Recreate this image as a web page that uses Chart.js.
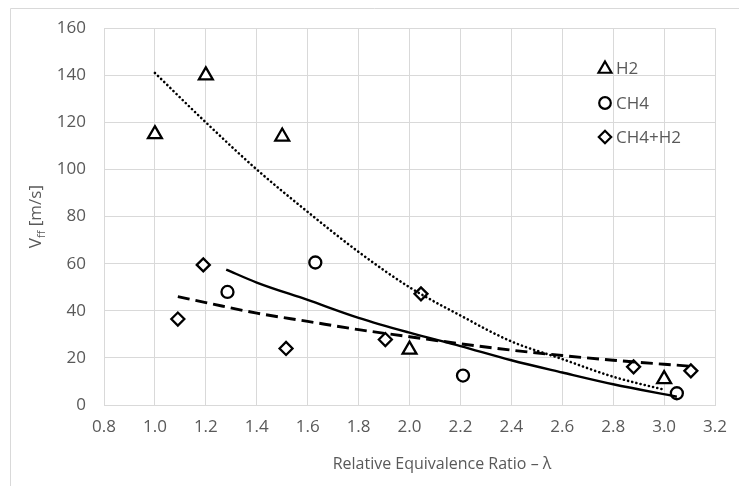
<!DOCTYPE html>
<html>
<head>
<meta charset="utf-8">
<script src="https://cdn.jsdelivr.net/npm/chart.js@4/dist/chart.umd.min.js"></script>
<style>
  html, body { margin: 0; padding: 0; background: #fff; }
  #wrap { width: 739px; height: 486px; }
</style>
</head>
<body>
<div id="wrap"><canvas id="chartVff"></canvas></div>
<script>
// measured points
var h2X = [1.0, 1.2, 1.5, 2.0, 3.0];
var h2Y = [115, 140, 114, 23.5, 11];
var ch4X = [1.285, 1.63, 2.21, 3.05];
var ch4Y = [48, 60.5, 12.5, 5];
var mixX = [1.09, 1.19, 1.515, 1.905, 2.045, 2.88, 3.105];
var mixY = [36.5, 59.5, 24, 27.8, 47.2, 16.2, 14.5];

// trend lines
var h2TrendX = [1.0, 1.2, 1.4, 1.6, 1.8, 2.0, 2.2, 2.4, 2.6, 2.8, 3.0];
var h2TrendY = [141, 120, 100, 82, 65, 50, 38, 27, 19.5, 12, 6.5];
var ch4TrendX = [1.28, 1.4, 1.6, 1.8, 2.0, 2.2, 2.4, 2.6, 2.8, 3.05];
var ch4TrendY = [57.5, 52, 44.6, 37, 30.7, 25, 19, 13.8, 8.8, 3.5];
var mixTrendX = [1.09, 1.2, 1.4, 1.6, 1.8, 2.0, 2.2, 2.4, 2.6, 2.8, 3.1];
var mixTrendY = [46, 43.5, 39, 35.5, 32, 29, 26, 23.3, 21, 19, 16.5];

var legendNames = ['H2', 'CH4', 'CH4+H2'];
var legendStyles = ['triangle', 'circle', 'rectRot'];

function pts(xs, ys) {
    return xs.map(function(x, i) { return { x: x, y: ys[i] }; });
}

var gray = '#595959';
var fontName = "'Open Sans', sans-serif";

// frame, axis titles and legend
var extras = {
    id: 'extras',
    beforeDraw: function(chart) {
        var ctx = chart.ctx;
        ctx.save();
        ctx.strokeStyle = '#d9d9d9';
        ctx.lineWidth = 1;
        ctx.beginPath();
        ctx.moveTo(10.5, 486);
        ctx.lineTo(10.5, 8.5);
        ctx.lineTo(739, 8.5);
        ctx.stroke();
        ctx.restore();
    },
    afterDraw: function(chart) {
        var ctx = chart.ctx;
        var area = chart.chartArea;
        ctx.save();
        ctx.fillStyle = gray;

        // x title
        ctx.font = '16px ' + fontName;
        ctx.textAlign = 'center';
        ctx.textBaseline = 'middle';
        ctx.fillText('Relative Equivalence Ratio \u2013 \u03bb', 442, 464);

        // y title with subscript
        ctx.translate(35, (area.top + area.bottom) / 2);
        ctx.rotate(-Math.PI / 2);
        ctx.textAlign = 'left';
        ctx.textBaseline = 'alphabetic';
        var big = '17px ' + fontName, small = '11px ' + fontName;
        ctx.font = big;
        var wV = ctx.measureText('V').width;
        var wU = ctx.measureText(' [m/s]').width;
        ctx.font = small;
        var wS = ctx.measureText('ff').width;
        var x0 = -(wV + wS + wU) / 2;
        ctx.font = big;
        ctx.fillText('V', x0, 6);
        ctx.font = small;
        ctx.fillText('ff', x0 + wV, 10);
        ctx.font = big;
        ctx.fillText(' [m/s]', x0 + wV + wS, 6);
        ctx.restore();

        // legend
        ctx.save();
        var rows = [68, 103, 137];
        var sizes = [7.5, 5.8, 6.2];
        for (var i = 0; i < legendNames.length; i++) {
            ctx.strokeStyle = '#000';
            ctx.fillStyle = '#fff';
            ctx.lineWidth = 2.2;
            Chart.helpers.drawPoint(ctx, { pointStyle: legendStyles[i], radius: sizes[i], rotation: 0, borderWidth: 2.2 }, 605, rows[i] + (i === 0 ? 1 : 0));
            ctx.fillStyle = gray;
            ctx.font = '17px ' + fontName;
            ctx.textAlign = 'left';
            ctx.textBaseline = 'middle';
            ctx.fillText(legendNames[i], 616, rows[i] + 1);
        }
        ctx.restore();
    }
};

function markerSet(data, style, r) {
    return {
        type: 'scatter',
        data: data,
        pointStyle: style,
        pointRadius: r,
        pointHoverRadius: r,
        pointBorderWidth: 2.3,
        pointBorderColor: '#000',
        pointBackgroundColor: '#fff',
        showLine: false
    };
}

function trendSet(data, width, dash, cap) {
    return {
        type: 'line',
        data: data,
        borderColor: '#000',
        borderWidth: width,
        borderDash: dash,
        borderCapStyle: cap,
        pointRadius: 0,
        fill: false,
        cubicInterpolationMode: 'monotone'
    };
}

new Chart(document.getElementById('chartVff').getContext('2d'), {
    data: {
        datasets: [
            trendSet(pts(h2TrendX, h2TrendY), 2.6, [0.1, 4.2], 'round'),
            trendSet(pts(ch4TrendX, ch4TrendY), 2.4, [], 'butt'),
            trendSet(pts(mixTrendX, mixTrendY), 2.9, [12, 6], 'butt'),
            markerSet(pts(h2X, h2Y), 'triangle', 8),
            markerSet(pts(ch4X, ch4Y), 'circle', 6),
            markerSet(pts(mixX, mixY), 'rectRot', 6.5)
        ]
    },
    options: {
        responsive: true,
        maintainAspectRatio: false,
        animation: false,
        layout: { padding: { left: 0, right: 15, top: 24, bottom: 0 } },
        plugins: { legend: { display: false }, tooltip: { enabled: false } },
        scales: {
            x: {
                type: 'linear',
                min: 0.8, max: 3.2,
                afterFit: function(s) { s.height = 81; },
                ticks: {
                    stepSize: 0.2,
                    color: gray,
                    padding: 12,
                    font: { family: fontName, size: 17 },
                    callback: function(v) { return Number(v).toFixed(1); }
                },
                grid: { color: '#d9d9d9', drawTicks: false },
                border: { color: '#d9d9d9' }
            },
            y: {
                min: 0, max: 160,
                afterFit: function(s) { s.width = 104; },
                ticks: {
                    stepSize: 20,
                    color: gray,
                    padding: 18,
                    font: { family: fontName, size: 17 }
                },
                grid: { color: '#d9d9d9', drawTicks: false },
                border: { display: false }
            }
        }
    },
    plugins: [extras]
});
</script>
</body>
</html>
